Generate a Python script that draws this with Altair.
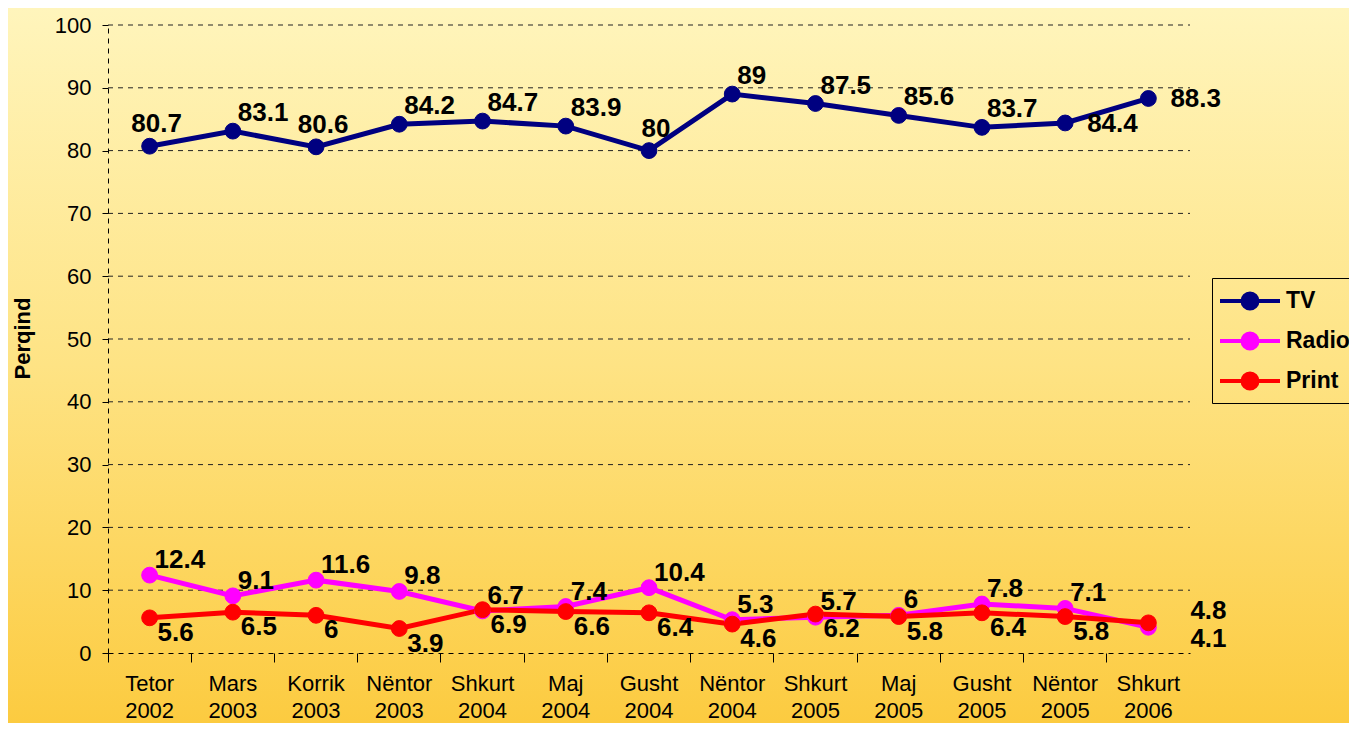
import altair as alt
import pandas as pd

categories = ["Tetor 2002", "Mars 2003", "Korrik 2003", "Nëntor 2003", "Shkurt 2004",
              "Maj 2004", "Gusht 2004", "Nëntor 2004", "Shkurt 2005", "Maj 2005",
              "Gusht 2005", "Nëntor 2005", "Shkurt 2006"]
tv = [80.7, 83.1, 80.6, 84.2, 84.7, 83.9, 80, 89, 87.5, 85.6, 83.7, 84.4, 88.3]
radio = [12.4, 9.1, 11.6, 9.8, 6.7, 7.4, 10.4, 5.3, 5.7, 6, 7.8, 7.1, 4.1]
print_ = [5.6, 6.5, 6, 3.9, 6.9, 6.6, 6.4, 4.6, 6.2, 5.8, 6.4, 5.8, 4.8]
series_names = ["TV", "Radio", "Print"]
series_colors = ["#000080", "#FF00FF", "#FF0000"]
y_ticks = [0, 10, 20, 30, 40, 50, 60, 70, 80, 90, 100]

rows = []
for name, vals in zip(series_names, [tv, radio, print_]):
    for i, (c, v) in enumerate(zip(categories, vals)):
        rows.append({"cat": c, "series": name, "value": v, "idx": i})
df = pd.DataFrame(rows)
grid_df = pd.DataFrame({"g": y_ticks[1:]})

FONT = "Liberation Sans"
W, H = 1082, 628
last = len(categories) - 1

color_scale = alt.Scale(domain=series_names, range=series_colors)
legend = alt.Legend(
    title=None, orient="none", legendX=1104, legendY=253,
    strokeColor="black", fillColor="transparent", padding=6,
    symbolType="M-2,0L2,0M-0.5,0A0.5,0.5,0,1,1,0.5,0A0.5,0.5,0,1,1,-0.5,0Z",
    symbolSize=900, symbolStrokeWidth=4, symbolOffset=15, labelOffset=19,
    labelFont=FONT, labelFontSize=23, labelFontWeight="bold", labelColor="black",
    rowPadding=7, labelLimit=200,
)

x_enc = alt.X(
    "cat:N", sort=categories, bandPosition=0.5, title=None,
    scale=alt.Scale(type="band", paddingInner=0, paddingOuter=0),
    axis=alt.Axis(
        bandPosition=0, labelAngle=0, labelExpr="split(datum.label, ' ')",
        labelFont=FONT, labelFontSize=22, labelColor="black", labelLineHeight=27,
        labelPadding=11, tickSize=9, tickColor="black", domainColor="black",
        domainDash=[5, 5], grid=False, zindex=1, labelBaseline="top",
    ),
)
y_scale = alt.Scale(domain=[0, 100], nice=False)
y_enc = alt.Y(
    "value:Q", scale=y_scale, title="Perqind",
    axis=alt.Axis(
        values=y_ticks, labelFont=FONT, labelFontSize=22, labelColor="black",
        tickSize=6, tickColor="black", labelPadding=11, domainColor="black",
        domainDash=[5, 5], grid=False, zindex=1,
        titleFont=FONT, titleFontSize=22, titleFontWeight="bold", titleColor="black",
        titleX=-86, titleY=313, titleAngle=270, titleAlign="center", titleBaseline="middle",
    ),
)

bg = alt.Chart(alt.Data(values=[{}])).mark_rect(
    color=alt.LinearGradient(
        gradient="linear", x1=0, x2=0, y1=0, y2=1,
        stops=[alt.GradientStop(color="#FFF5BC", offset=0),
               alt.GradientStop(color="#FEE384", offset=0.5),
               alt.GradientStop(color="#FCCB40", offset=1)],
    )
).encode(x=alt.value(-100), x2=alt.value(W + 160), y=alt.value(-17), y2=alt.value(H + 70))

grid = alt.Chart(grid_df).mark_rule(color="#222222", strokeWidth=1, strokeDash=[5, 5]).encode(
    y=alt.Y("g:Q", scale=y_scale), x=alt.value(0), x2=alt.value(W)
)

base = alt.Chart(df)
lines = base.mark_line(strokeWidth=5).encode(
    x=x_enc, y=y_enc,
    stroke=alt.Stroke("series:N", scale=color_scale, legend=legend),
    order="idx:Q",
)
points = base.mark_point(filled=True, size=250, opacity=1, strokeWidth=1).encode(
    x=x_enc, y=y_enc,
    fill=alt.Fill("series:N", scale=color_scale, legend=legend),
    stroke=alt.Stroke("series:N", scale=color_scale, legend=legend),
)

def labels(filter_expr, dx, dy, align="left"):
    return base.transform_filter(filter_expr).mark_text(
        font=FONT, fontSize=26, fontWeight="bold", color="black",
        align=align, baseline="middle", dx=dx, dy=dy,
    ).encode(x=x_enc, y=y_enc, text=alt.Text("value:Q"))

centered_tv = "indexof([0, 2, 6], datum.idx) >= 0"
right_tv = "indexof([11, 12], datum.idx) >= 0"
lab_tv = labels(f"datum.series == 'TV' && !({centered_tv}) && !({right_tv})", 5, -18)
lab_tv_c = labels(f"datum.series == 'TV' && {centered_tv}", 7, -22, "center")
lab_tv_r = labels(f"datum.series == 'TV' && {right_tv}", 22, 1)
lab_radio = labels(f"datum.series == 'Radio' && datum.idx < {last}", 5, -15)
lab_print = labels(f"datum.series == 'Print' && datum.idx < {last}", 8, 15)
lab_print_last = labels(f"datum.series == 'Print' && datum.idx == {last}", 42, -12)
lab_radio_last = labels(f"datum.series == 'Radio' && datum.idx == {last}", 42, 12)

chart = alt.layer(
    bg, grid, lines, points,
    lab_tv, lab_tv_c, lab_tv_r, lab_radio, lab_print, lab_print_last, lab_radio_last,
).properties(
    width=W, height=H,
    autosize=alt.AutoSizeParams(type="none"),
    padding={"left": 100, "top": 17, "right": 159, "bottom": 70},
).configure_view(stroke=None).configure(background="#FDD657")

chart.save("out.html", embed_options={"renderer": "svg", "actions": False})
